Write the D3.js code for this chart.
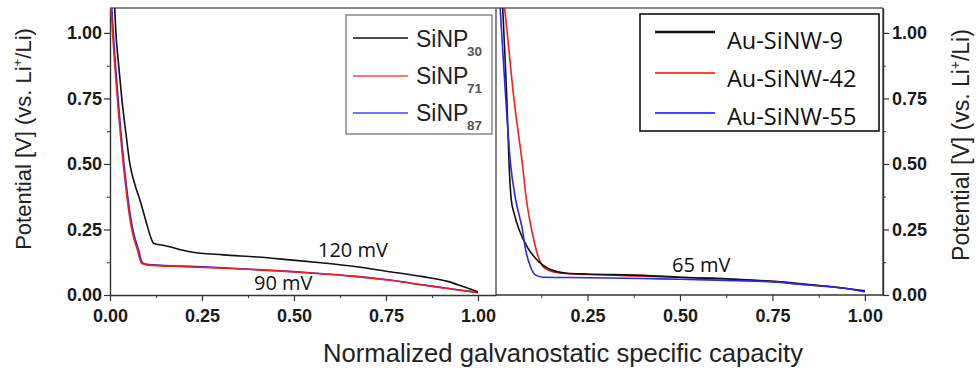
<!DOCTYPE html>
<html><head><meta charset="utf-8">
<script src="https://cdn.jsdelivr.net/npm/d3@7"></script>
<style>body{margin:0;background:#fff}svg{display:block}</style>
</head><body>
<svg id="c" width="976" height="371"></svg>
<script>
// ---- data ----
const leftNames = ["SiNP", "SiNP", "SiNP"];
const leftSubs = ["30", "71", "87"];
const rightNames = ["Au-SiNW-9", "Au-SiNW-42", "Au-SiNW-55"];
const seriesColors = ["#111111", "#ee2020", "#2828ee"];
const legendColors = ["#111111", "#ff4444", "#4444ff"];
const xTicks = [0, 0.25, 0.5, 0.75, 1.0];
const yTicks = [0, 0.25, 0.5, 0.75, 1.0];

const sinp30 = [[0.012,1.12],[0.016,1.0],[0.022,0.9],[0.032,0.75],[0.043,0.62],[0.054,0.5],[0.068,0.42],[0.082,0.36],[0.1,0.27],[0.112,0.215],[0.118,0.197],[0.15,0.188],[0.217,0.165],[0.308,0.153],[0.4,0.145],[0.489,0.134],[0.58,0.122],[0.67,0.108],[0.76,0.089],[0.85,0.07],[0.92,0.051],[0.96,0.032],[1.0,0.012]];
const sinp71 = [[0.002,1.12],[0.007,1.0],[0.02,0.75],[0.036,0.5],[0.059,0.25],[0.075,0.17],[0.086,0.121],[0.1,0.115],[0.2,0.108],[0.308,0.102],[0.4,0.096],[0.489,0.089],[0.58,0.08],[0.67,0.07],[0.76,0.056],[0.85,0.038],[0.93,0.022],[1.0,0.009]];
const sinp87 = [[0.004,1.12],[0.009,1.0],[0.022,0.75],[0.038,0.5],[0.062,0.25],[0.078,0.17],[0.088,0.123],[0.1,0.117],[0.2,0.11],[0.308,0.104],[0.4,0.097],[0.489,0.09],[0.58,0.081],[0.67,0.071],[0.76,0.057],[0.85,0.039],[0.93,0.023],[1.0,0.01]];
const ausinw9 = [[0.02,1.12],[0.024,1.0],[0.032,0.75],[0.038,0.5],[0.044,0.363],[0.052,0.31],[0.065,0.25],[0.087,0.184],[0.114,0.133],[0.145,0.1],[0.195,0.083],[0.25,0.08],[0.4,0.075],[0.5,0.068],[0.65,0.06],[0.75,0.052],[0.85,0.04],[0.95,0.025],[1.0,0.016]];
const ausinw42 = [[0.024,1.12],[0.033,1.0],[0.051,0.75],[0.074,0.5],[0.085,0.363],[0.099,0.25],[0.114,0.16],[0.13,0.108],[0.155,0.089],[0.2,0.081],[0.25,0.078],[0.4,0.072],[0.5,0.068],[0.65,0.06],[0.75,0.052],[0.85,0.038],[0.95,0.025],[1.0,0.014]];
const ausinw55 = [[0.013,1.12],[0.018,1.0],[0.029,0.75],[0.042,0.5],[0.056,0.363],[0.074,0.25],[0.083,0.171],[0.096,0.108],[0.11,0.076],[0.13,0.068],[0.25,0.066],[0.4,0.063],[0.5,0.06],[0.65,0.055],[0.75,0.05],[0.85,0.038],[0.95,0.025],[1.0,0.012]];
const leftSeries = [sinp30, sinp71, sinp87];
const rightSeries = [ausinw9, ausinw42, ausinw55];

// ---- layout ----
const svg = d3.select("#c");
const topY = 8, bottomY = 295;
const y = d3.scaleLinear().domain([0, 1.095]).range([bottomY, topY]);
const xL = d3.scaleLinear().domain([0, 1.049]).range([110, 496]);
const xR = d3.scaleLinear().domain([0, 1.049]).range([495, 883]);
const tickFont = "'Liberation Sans', Arial, sans-serif";
const minorX = d3.range(0, 1.01, 0.125).filter(v => Math.abs((v*4) - Math.round(v*4)) > 1e-6);
const minorY = minorX;

const defs = svg.append("defs");
defs.append("clipPath").attr("id","clipL").append("rect").attr("x",110).attr("y",topY).attr("width",386).attr("height",bottomY-topY);
defs.append("clipPath").attr("id","clipR").append("rect").attr("x",496).attr("y",topY).attr("width",387).attr("height",bottomY-topY);

// frames
svg.append("line").attr("x1",110).attr("x2",883).attr("y1",topY).attr("y2",topY).attr("stroke","#888").attr("stroke-width",1.8);
svg.append("line").attr("x1",496).attr("x2",496).attr("y1",topY).attr("y2",bottomY).attr("stroke","#666").attr("stroke-width",1.6);
svg.append("line").attr("x1",883).attr("x2",883).attr("y1",topY).attr("y2",bottomY).attr("stroke","#444").attr("stroke-width",1.4);

function styleAxis(g){
  g.select(".domain").attr("stroke","#333").attr("stroke-width",1.4);
  g.selectAll(".tick line").attr("stroke","#333").attr("stroke-width",1.2);
  g.selectAll(".tick text").attr("font-family",tickFont).attr("font-weight","bold").attr("font-size",18).attr("fill","#1a1a1a");
}
const fmt = d3.format(".2f");

// left x axis
const gxL = svg.append("g").attr("transform",`translate(0,${bottomY})`)
  .call(d3.axisBottom(xL).tickValues(xTicks).tickFormat(fmt).tickSize(6).tickSizeOuter(0));
styleAxis(gxL);
gxL.selectAll(".tick text").attr("dy","0.98em");
svg.append("g").attr("transform",`translate(0,${bottomY})`)
  .call(d3.axisBottom(xL).tickValues(minorX).tickFormat("").tickSize(3).tickSizeOuter(0))
  .call(g=>{g.select(".domain").remove(); g.selectAll("line").attr("stroke","#333");});
// right x axis
const gxR = svg.append("g").attr("transform",`translate(0,${bottomY})`)
  .call(d3.axisBottom(xR).tickValues(xTicks.slice(1)).tickFormat(fmt).tickSize(6).tickSizeOuter(0));
styleAxis(gxR);
gxR.select(".domain").attr("d",`M496,0H883`);
gxR.selectAll(".tick text").attr("dy","0.98em");
svg.append("g").attr("transform",`translate(0,${bottomY})`)
  .call(d3.axisBottom(xR).tickValues(minorX).tickFormat("").tickSize(3).tickSizeOuter(0))
  .call(g=>{g.select(".domain").remove(); g.selectAll("line").attr("stroke","#333");});

// left y axis
const gyL = svg.append("g").attr("transform",`translate(110,0)`)
  .call(d3.axisLeft(y).tickValues(yTicks).tickFormat(fmt).tickSize(6).tickSizeOuter(0));
styleAxis(gyL);
gyL.selectAll(".tick text").attr("x",-8);
svg.append("g").attr("transform",`translate(110,0)`)
  .call(d3.axisLeft(y).tickValues(minorY).tickFormat("").tickSize(3).tickSizeOuter(0))
  .call(g=>{g.select(".domain").remove(); g.selectAll("line").attr("stroke","#333");});
// right y axis
const gyR = svg.append("g").attr("transform",`translate(883,0)`)
  .call(d3.axisRight(y).tickValues(yTicks).tickFormat(fmt).tickSize(6).tickSizeOuter(0));
styleAxis(gyR);
gyR.selectAll(".tick text").attr("x",9);
svg.append("g").attr("transform",`translate(883,0)`)
  .call(d3.axisRight(y).tickValues(minorY).tickFormat("").tickSize(3).tickSizeOuter(0))
  .call(g=>{g.select(".domain").remove(); g.selectAll("line").attr("stroke","#333");});

// curves
const lineL = d3.line().x(d=>xL(d[0])).y(d=>y(d[1])).curve(d3.curveMonotoneX);
const lineR = d3.line().x(d=>xR(d[0])).y(d=>y(d[1])).curve(d3.curveMonotoneX);
svg.append("g").attr("clip-path","url(#clipL)").selectAll("path").data([2,1,0]).join("path")
  .attr("d",i=>lineL(leftSeries[i])).attr("fill","none").attr("stroke",i=>seriesColors[i]).attr("stroke-width",1.6);
svg.append("g").attr("clip-path","url(#clipR)").selectAll("path").data([1,0,2]).join("path")
  .attr("d",i=>lineR(rightSeries[i])).attr("fill","none").attr("stroke",i=>seriesColors[i]).attr("stroke-width",1.6);

// left legend
svg.append("rect").attr("x",346).attr("y",15).attr("width",146).attr("height",119)
  .attr("fill","#fff").attr("stroke","#888").attr("stroke-width",1.5);
const legL = svg.append("g").selectAll("g").data(leftNames).join("g");
const legLY = [38, 76, 113], legLB = [47, 84, 121];
legL.append("line").attr("x1",353).attr("x2",408).attr("y1",(d,i)=>legLY[i]).attr("y2",(d,i)=>legLY[i])
  .attr("stroke",(d,i)=>legendColors[i]).attr("stroke-width",1.6);
legL.append("text").attr("x",416).attr("y",(d,i)=>legLB[i]).attr("font-family",tickFont).attr("font-size",23).attr("fill","#222").text(d=>d);
legL.append("text").attr("x",467).attr("y",(d,i)=>legLB[i]+9).attr("font-family",tickFont).attr("font-size",13.5).attr("font-weight","bold").attr("fill","#555").text((d,i)=>leftSubs[i]);

// right legend
svg.append("rect").attr("x",640).attr("y",14).attr("width",239).attr("height",117)
  .attr("fill","#fff").attr("stroke","#111").attr("stroke-width",1.6);
const legR = svg.append("g").selectAll("g").data(rightNames).join("g");
const legRY = [32, 73, 113], legRB = [49, 87, 125];
legR.append("line").attr("x1",655).attr("x2",715).attr("y1",(d,i)=>legRY[i]).attr("y2",(d,i)=>legRY[i])
  .attr("stroke",(d,i)=>legendColors[i]).attr("stroke-width",(d,i)=>i===0?2.6:2);
legR.append("text").attr("x",727).attr("y",(d,i)=>legRB[i]).attr("font-family","'Open Sans', sans-serif").attr("font-size",23.5).attr("fill","#111").text(d=>d);

// annotations
const annoFont = "'Open Sans', sans-serif";
svg.append("text").attr("x",318).attr("y",257).attr("font-family",annoFont).attr("font-size",20).attr("fill","#111").text("120 mV");
svg.append("text").attr("x",254).attr("y",290).attr("font-family",annoFont).attr("font-size",20).attr("fill","#111").text("90 mV");
svg.append("text").attr("x",672).attr("y",272).attr("font-family",annoFont).attr("font-size",20).attr("fill","#111").text("65 mV");

// axis titles
svg.append("text").attr("x",563).attr("y",362).attr("text-anchor","middle")
  .attr("font-family","'Liberation Sans Narrow', 'Liberation Sans', Arial, sans-serif").attr("font-size",25).attr("fill","#222")
  .attr("textLength",480).attr("lengthAdjust","spacingAndGlyphs").text("Normalized galvanostatic specific capacity");

function yTitle(cx, cy, size){
  const t = svg.append("text").attr("transform",`translate(${cx},${cy}) rotate(-90)`).attr("text-anchor","middle")
    .attr("font-family",tickFont).attr("font-size",size).attr("fill","#222");
  t.append("tspan").text("Potential [V] (vs. Li");
  t.append("tspan").attr("font-size",size*0.6).attr("dy",-size*0.4).text("+");
  t.append("tspan").attr("dy",size*0.4).text("/Li)");
}
yTitle(31, 139, 22);
yTitle(969, 145, 23);
</script>
</body></html>
